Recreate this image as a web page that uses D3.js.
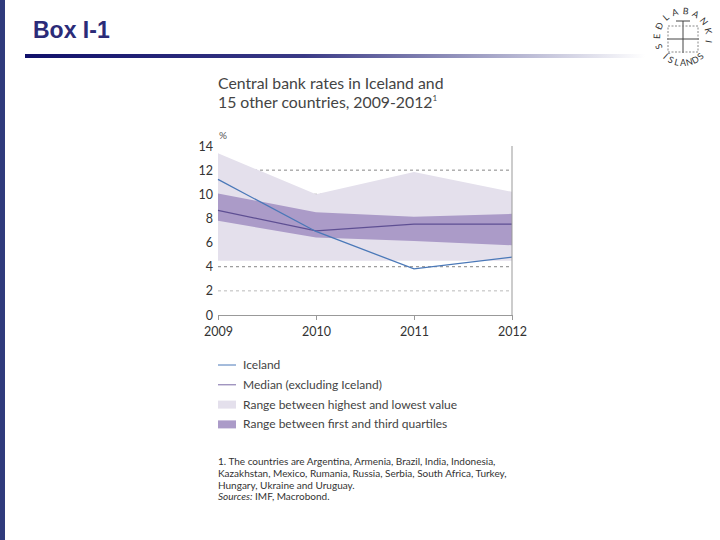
<!DOCTYPE html>
<html><head><meta charset="utf-8">
<script src="https://cdn.jsdelivr.net/npm/d3@7"></script>
<style>body{margin:0;background:#fff}svg{display:block}</style>
</head><body>
<script>
const years = [2009, 2010, 2011, 2012];
const rangeMax = [13.4, 10.0, 11.85, 10.2];
const rangeMin = [4.5, 4.5, 4.5, 4.5];
const q3 = [10.07, 8.52, 8.13, 8.38];
const q1 = [7.8, 6.42, 6.14, 5.78];
const median = [8.66, 6.97, 7.53, 7.53];
const iceland = [11.23, 6.92, 3.82, 4.79];
const yTicks = [0, 2, 4, 6, 8, 10, 12, 14];
const gridTicks = [2, 4, 6, 8, 10, 12];
const legendItems = [
  {label: "Iceland", type: "line", color: "#4a78b8"},
  {label: "Median (excluding Iceland)", type: "line", color: "#7a6aa6"},
  {label: "Range between highest and lowest value", type: "rect", color: "#e4e0ec"},
  {label: "Range between first and third quartiles", type: "rect", color: "#ab9bc8"}
];
const footnote = [
  "1. The countries are Argentina, Armenia, Brazil, India, Indonesia,",
  "Kazakhstan, Mexico, Rumania, Russia, Serbia, South Africa, Turkey,",
  "Hungary, Ukraine and Uruguay."
];
const logoTop = "SEÐLABANKI".split("");
const logoBottom = "ÍSLANDS".split("");

const W = 720, H = 540;
const svg = d3.select("body").append("svg").attr("width", W).attr("height", H);
const font = "Lato, 'Open Sans', sans-serif";

// slide decoration
const defs = svg.append("defs");
const grad = defs.append("linearGradient").attr("id", "ul").attr("x1", "0").attr("x2", "1");
grad.append("stop").attr("offset", "0").attr("stop-color", "#10106a");
grad.append("stop").attr("offset", "0.45").attr("stop-color", "#3a3a86");
grad.append("stop").attr("offset", "1").attr("stop-color", "#ffffff");
svg.append("rect").attr("x", 0).attr("y", 0).attr("width", 5).attr("height", H).attr("fill", "#2f3b7c");
svg.append("rect").attr("x", 25).attr("y", 54).attr("width", 620).attr("height", 4).attr("fill", "url(#ul)");
svg.append("text").attr("x", 33).attr("y", 38).text("Box I-1")
  .attr("font-family", "Arial, 'Liberation Sans', sans-serif").attr("font-weight", "bold")
  .attr("font-size", 23).attr("fill", "#2b2b78");

// logo (circular lettering, one letter each)
const logo = svg.append("g").attr("transform", "translate(683,37)")
  .attr("font-family", font).attr("font-size", 9).attr("fill", "#333").attr("text-anchor", "middle");
const R = 26;
logoTop.forEach((ch, i) => {
  const a = -112 + i * (212 / (logoTop.length - 1));
  logo.append("text").attr("transform", `rotate(${a}) translate(0,${-R})`).attr("dy", "0.35em").text(ch);
});
logoBottom.forEach((ch, i) => {
  const a = 222 - i * (84 / (logoBottom.length - 1));
  logo.append("text").attr("transform", `rotate(${a}) translate(0,${-R}) rotate(180)`).attr("dy", "0.35em").text(ch);
});
logo.append("line").attr("x1", -16).attr("x2", 16).attr("y1", 2).attr("y2", 2).attr("stroke", "#444");
logo.append("line").attr("x1", 0).attr("x2", 0).attr("y1", -16).attr("y2", 16).attr("stroke", "#444");
logo.append("line").attr("x1", -7).attr("x2", 7).attr("y1", -16).attr("y2", -16).attr("stroke", "#444");
logo.append("rect").attr("x", -15).attr("y", -11).attr("width", 30).attr("height", 26).attr("fill", "none").attr("stroke", "#888").attr("stroke-dasharray", "2,1.5");

// chart title
const t = svg.append("g").attr("font-family", font).attr("fill", "#444");
t.append("text").attr("x", 218).attr("y", 89).attr("font-size", 15.8).text("Central bank rates in Iceland and");
const t2 = t.append("text").attr("x", 218).attr("y", 108).attr("font-size", 15.8).text("15 other countries, 2009-2012");
t2.append("tspan").attr("font-size", 8).attr("dy", -7).text("1");

// scales
const x = d3.scaleLinear().domain([2009, 2012]).range([218, 512]);
const y = d3.scaleLinear().domain([0, 14]).range([315, 146]);

const g = svg.append("g");
// gridlines
g.selectAll(".grid").data(gridTicks).join("line")
  .attr("x1", x(2009)).attr("x2", x(2012))
  .attr("y1", d => y(d)).attr("y2", d => y(d))
  .attr("stroke", d => d === 2 ? "#aaa" : "#666").attr("stroke-width", 0.8)
  .attr("stroke-dasharray", "3,3");

const area = (lo, hi) => d3.area().x((d, i) => x(years[i])).y0((d, i) => y(lo[i])).y1((d, i) => y(hi[i]))(years);
g.append("path").attr("d", area(rangeMin, rangeMax)).attr("fill", "#e4e0ec");
g.append("path").attr("d", area(q1, q3)).attr("fill", "#ab9bc8");

const line = vals => d3.line().x((d, i) => x(years[i])).y((d, i) => y(vals[i]))(years);
g.append("path").attr("d", line(median)).attr("fill", "none").attr("stroke", "#5e4f93").attr("stroke-width", 1.3);
g.append("path").attr("d", line(iceland)).attr("fill", "none").attr("stroke", "#4a78b8").attr("stroke-width", 1.3);

// axes
const xAxis = g.append("g").attr("transform", `translate(0,${y(0)})`)
  .call(d3.axisBottom(x).tickValues(years).tickFormat(d3.format("d")).tickSize(5));
xAxis.select(".domain").attr("stroke", "#999");
xAxis.selectAll(".tick line").attr("stroke", "#999");
xAxis.selectAll("text").attr("font-family", font).attr("font-size", 12.5).attr("fill", "#333").attr("dy", "1.05em");

const yAxis = g.append("g").attr("transform", `translate(${x(2009) - 4},0)`)
  .call(d3.axisLeft(y).tickValues(yTicks).tickSize(0));
yAxis.select(".domain").remove();
yAxis.selectAll("text").attr("font-family", font).attr("font-size", 12.5).attr("fill", "#333").attr("x", -1);

g.append("line").attr("x1", x(2012)).attr("x2", x(2012)).attr("y1", y(14)).attr("y2", y(0)).attr("stroke", "#999");
g.append("text").attr("x", 219).attr("y", 139).attr("font-family", font).attr("font-size", 10).attr("fill", "#555").text("%");

// legend
const lg = svg.append("g").attr("font-family", font).attr("font-size", 12).attr("fill", "#444");
legendItems.forEach((it, i) => {
  const yy = 365 + i * 19.8;
  if (it.type === "line") {
    lg.append("line").attr("x1", 218).attr("x2", 236).attr("y1", yy).attr("y2", yy).attr("stroke", it.color).attr("stroke-width", 1);
  } else {
    lg.append("rect").attr("x", 218).attr("y", yy - 4).attr("width", 18).attr("height", 8).attr("fill", it.color);
  }
  lg.append("text").attr("x", 243).attr("y", yy + 4).text(it.label);
});

// footnote
const fn = svg.append("g").attr("font-family", font).attr("font-size", 10).attr("fill", "#333");
footnote.forEach((s, i) => fn.append("text").attr("x", 218).attr("y", 465 + i * 12).text(s));
fn.append("text").attr("x", 218).attr("y", 500).attr("font-style", "italic").text("Sources:")
  .append("tspan").attr("font-style", "normal").text(" IMF, Macrobond.");
</script>
</body></html>
